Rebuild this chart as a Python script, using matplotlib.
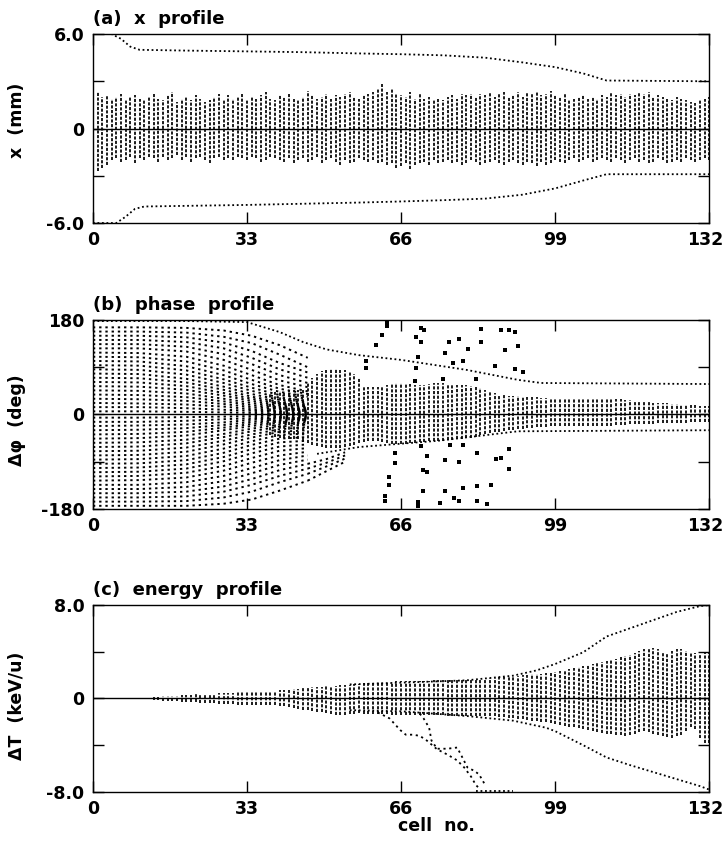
import numpy as np
import matplotlib
matplotlib.use("Agg")
import matplotlib.pyplot as plt
import matplotlib.transforms as mtransforms

plt.rcParams['font.family'] = ['DejaVu Sans']
plt.rcParams['font.weight'] = 'bold'

# ---------------- data ----------------
x_ticks = [0, 33, 66, 99, 132]
x_ticklabels = ['0', '33', '66', '99', '132']

# (a) x profile: extent of particle column at every cell (mm)
a_top = [2.5, 2.3, 2.0, 2.1, 1.9, 2.0, 2.2, 1.8, 2.0, 2.1,
         1.9, 1.8, 2.0, 2.2, 1.9, 1.8, 2.1, 2.3, 1.7, 1.9,
         2.0, 1.8, 2.1, 1.9, 1.7, 1.8, 2.0, 2.2, 1.8, 2.1,
         1.9, 2.0, 2.2, 1.8, 2.0, 1.9, 2.1, 2.3, 1.9, 1.8,
         2.1, 2.0, 2.2, 1.9, 1.8, 2.0, 2.4, 2.1, 1.9, 2.0,
         2.2, 1.9, 2.1, 2.0, 2.2, 2.3, 2.0, 1.9, 2.1, 2.2,
         2.3, 2.5, 2.8, 2.3, 2.6, 2.2, 2.1, 2.0, 2.3, 1.9,
         2.2, 1.9, 2.0, 1.8, 1.9, 1.8, 2.0, 2.1, 1.9, 2.2,
         2.1, 2.2, 2.0, 2.2, 2.1, 2.3, 2.0, 2.2, 2.3, 2.0,
         2.1, 2.3, 2.0, 2.3, 2.2, 2.4, 2.1, 2.2, 2.4, 2.1,
         2.0, 2.2, 1.8, 1.9, 2.0, 2.1, 1.9, 2.0, 1.9, 2.1,
         2.0, 2.3, 2.1, 2.2, 2.0, 2.2, 2.1, 2.3, 2.2, 2.3,
         2.0, 2.1, 2.0, 1.9, 1.8, 2.0, 1.9, 1.8, 1.7, 1.6,
         1.8, 1.9, 2.0]
a_bot = [-2.9, -2.7, -2.5, -2.3, -2.0, -1.9, -2.1, -2.0, -1.8, -2.2,
         -1.9, -2.0, -1.8, -1.9, -2.1, -1.8, -2.0, -1.9, -1.7, -2.0,
         -1.8, -2.1, -1.9, -1.8, -2.0, -2.2, -1.9, -1.8, -2.0, -1.9,
         -2.0, -1.8, -1.9, -2.0, -1.8, -1.9, -2.1, -2.0, -1.8, -1.9,
         -2.0, -2.1, -1.9, -2.2, -2.0, -1.9, -2.1, -2.0, -1.8, -2.2,
         -2.0, -1.9, -2.1, -2.3, -2.0, -2.2, -2.1, -1.9, -2.0, -2.1,
         -2.0, -2.2, -2.1, -2.3, -2.2, -2.5, -2.4, -2.2, -2.6, -2.3,
         -2.2, -2.1, -2.3, -2.0, -2.2, -2.1, -2.0, -2.2, -2.1, -2.3,
         -2.2, -2.0, -2.1, -2.3, -2.2, -2.1, -2.0, -2.2, -2.3, -2.1,
         -2.0, -2.2, -2.3, -2.1, -2.2, -2.4, -2.1, -2.3, -2.2, -2.0,
         -2.1, -2.2, -2.0, -1.9, -2.1, -2.0, -1.9, -2.1, -2.0, -1.9,
         -2.0, -2.1, -1.9, -2.0, -2.2, -2.0, -1.9, -2.1, -2.0, -2.2,
         -2.1, -1.9, -2.0, -2.2, -2.1, -2.0, -2.1, -1.9, -2.0, -2.1,
         -2.0, -1.9, -2.0]
a_env_up_cell = [0, 4, 6, 8, 10, 20, 33, 45, 57, 66, 75, 84, 92, 99, 105, 110, 132]
a_env_up_val = [6.0, 6.0, 5.7, 5.2, 5.0, 4.95, 4.9, 4.85, 4.77, 4.72, 4.65, 4.5, 4.2, 3.9, 3.5, 3.05, 3.0]
a_env_lo_cell = [0, 5, 7, 9, 11, 33, 57, 66, 75, 84, 92, 99, 105, 110, 132]
a_env_lo_val = [-6.0, -6.0, -5.6, -5.1, -4.95, -4.85, -4.7, -4.63, -4.55, -4.45, -4.2, -3.8, -3.3, -2.9, -2.9]

# (b) phase profile
b_core_cells = list(range(38, 133))
b_top = [40, 42, 44, 45, 46, 46, 47, 48,
         60, 70, 78, 83, 85, 86, 86, 85, 84, 82, 78, 70,
         55, 53, 52, 52, 53, 56, 58,
         60, 60, 59, 58, 57, 56, 56, 58,
         60, 60, 60, 59, 58, 57, 56, 56, 55, 53, 50, 47, 44, 40, 38,
         37, 36, 35, 35, 34, 34, 33, 33, 32, 32, 32, 32,
         32, 32, 32, 32, 32, 32, 32, 32, 32, 31, 31,
         30, 30, 29, 28, 27, 26, 25, 24, 23, 22, 21, 21, 21, 20, 20, 19, 19, 18, 18, 17, 17, 17]
b_bot = [-40, -42, -44, -45, -46, -46, -47, -48,
         -55, -58, -60, -62, -63, -63, -63, -63, -62, -60, -58, -55,
         -52, -51, -50, -51, -53, -55, -57,
         -57, -57, -56, -55, -54, -53, -52, -51,
         -51, -50, -50, -49, -48, -47, -46, -45, -44, -42, -40, -38, -36, -34, -33,
         -32, -30, -29, -28, -27, -26, -25, -24, -23, -23, -22, -22,
         -22, -22, -22, -22, -22, -22, -22, -22, -21, -21, -21,
         -21, -20, -20, -20, -19, -19, -19, -18, -18, -18, -17, -17, -17, -16, -16, -16, -16, -15, -15, -15, -15, -15]
# phase trajectories of the particle rows at the knot cells
b_knot_cells = [0, 10, 20, 28, 34, 40, 46]
b_rows = [
    [166, 166, 165, 160, 150, 132, 108],
    [158, 158, 156, 148, 136, 114, 90],
    [150, 150, 147, 137, 121, 98, 80],
    [142, 142, 138, 126, 108, 86, 70],
    [134, 134, 129, 115, 96, 75, 60],
    [126, 126, 120, 104, 85, 65, 52],
    [118, 117, 110, 93, 75, 56, 44],
    [110, 109, 101, 84, 66, 49, 39],
    [102, 101, 92, 75, 58, 43, 34],
    [94, 93, 84, 67, 51, 37, 30],
    [86, 85, 76, 60, 45, 32, 26],
    [78, 77, 68, 53, 39, 28, 23],
    [70, 69, 61, 47, 34, 24, 20],
    [62, 61, 54, 41, 30, 21, 17],
    [54, 53, 47, 36, 26, 18, 14],
    [46, 45, 40, 30, 22, 15, 12],
    [38, 37, 33, 25, 18, 12, 10],
    [30, 29, 26, 20, 14, 10, 8],
    [22, 21, 19, 15, 10, 7, 6],
    [14, 14, 12, 9, 7, 5, 4],
    [6, 6, 5, 4, 3, 2, 2],
    [-6, -6, -5, -4, -3, -2, -2],
    [-14, -14, -12, -9, -7, -5, -4],
    [-22, -21, -19, -15, -10, -7, -6],
    [-30, -29, -26, -20, -14, -10, -8],
    [-38, -37, -33, -25, -18, -12, -10],
    [-46, -45, -40, -30, -22, -15, -12],
    [-54, -53, -48, -37, -27, -19, -15],
    [-62, -61, -55, -43, -32, -23, -19],
    [-70, -69, -63, -50, -38, -28, -24],
    [-78, -77, -71, -57, -44, -33, -30],
    [-86, -85, -79, -65, -51, -39, -36],
    [-94, -93, -87, -73, -58, -46, -43],
    [-102, -101, -95, -81, -66, -53, -50],
    [-110, -109, -103, -89, -74, -61, -57],
    [-118, -117, -111, -98, -83, -69, -64],
    [-126, -125, -120, -107, -92, -78, -71],
    [-134, -134, -129, -117, -102, -87, -78],
    [-142, -142, -138, -127, -112, -96, -86],
    [-150, -150, -147, -137, -123, -106, -94],
    [-158, -158, -156, -147, -134, -117, -103],
    [-166, -166, -165, -158, -147, -129, -113],
    [-174, -174, -174, -170, -162, -145, -126],
]
# outer lower rows keep going until they join the core
b_late_cell = [46, 50, 54]
b_late_rows = [
    [-94, -85, -72],
    [-103, -92, -78],
    [-113, -99, -84],
    [-126, -108, -90],
]
b_env_up_cell = [0, 20, 33, 40, 45, 50, 57, 66, 80, 91, 96, 132]
b_env_up_val = [178, 178, 176, 157, 138, 124, 113, 104, 85, 66, 60, 58]
b_env_lo_cell = [48, 57, 74, 91, 132]
b_env_lo_val = [-75, -62, -50, -32, -30]
b_out_cell = [62.9, 62.9, 61.8, 60.7, 70.2, 70.9, 69.1, 70.2, 76.3, 78.3, 80.3, 75.3,
              77.2, 79.2, 83.1, 83.1, 87.3, 89.2, 90.3, 91.1, 88.3, 90.3, 92.2, 86.2,
              75.0, 69.1, 68.9, 82.1, 58.5, 58.5, 69.7,
              64.6, 64.6, 63.5, 63.5, 62.6, 62.6, 69.6, 69.6, 70.6, 71.5, 71.5, 70.6,
              74.4, 75.4, 77.4, 78.3, 75.4, 76.5, 78.3, 79.3, 79.3, 82.3, 82.3, 82.3,
              84.3, 85.2, 86.4, 87.3, 89.2, 89.2, 70.3]
b_out_val = [174, 168, 152, 133, 165, 161, 148, 139, 139, 143, 124, 118,
             98, 102, 162, 139, 161, 161, 158, 131, 122, 87, 80, 93,
             68, 88, 63, 68, 101, 88, 110,
             -73, -92, -120, -135, -156, -164, -167, -174, -106, -109, -80, -146,
             -169, -146, -159, -164, -87, -59, -90, -59, -140, -73, -137, -164,
             -171, -135, -85, -83, -65, -103, -60]

# (c) energy profile (keV/u)
c_top = [0.05] * 13 + [
    0.10, 0.15, 0.18, 0.20, 0.22, 0.25, 0.28, 0.30,
    0.32, 0.34, 0.36, 0.38, 0.40, 0.42, 0.44, 0.46, 0.48, 0.50, 0.52, 0.54,
    0.55, 0.57, 0.59, 0.61, 0.63, 0.66, 0.68, 0.70, 0.73, 0.76, 0.80, 0.84, 0.88,
    0.92, 0.95, 0.98, 1.01, 1.04, 1.07, 1.10, 1.13, 1.16, 1.19, 1.22, 1.25, 1.28, 1.32, 1.36,
    1.40, 1.42, 1.44, 1.45, 1.46, 1.47, 1.48, 1.49, 1.50, 1.51, 1.52, 1.53, 1.54,
    1.55, 1.56, 1.57, 1.58, 1.59, 1.60, 1.62, 1.64, 1.66, 1.68, 1.70, 1.72, 1.75,
    1.80, 1.84, 1.88, 1.92, 1.96, 2.00, 2.03, 2.06, 2.08, 2.10, 2.15, 2.20, 2.28, 2.35,
    2.40, 2.50, 2.60, 2.65, 2.75, 2.85, 2.95, 3.05, 3.10, 3.20, 3.30, 3.40, 3.55, 3.65,
    3.75, 3.90, 4.05, 4.20, 4.30, 4.35, 4.20, 3.90, 3.80, 4.10, 4.20, 4.25, 4.10, 4.00,
    3.90, 3.80, 3.85, 3.90]
c_bot = [-0.05] * 13 + [
    -0.10, -0.15, -0.18, -0.20, -0.22, -0.25, -0.28, -0.30,
    -0.32, -0.34, -0.36, -0.38, -0.40, -0.42, -0.44, -0.46, -0.48, -0.50, -0.52, -0.53,
    -0.54, -0.55, -0.56, -0.57, -0.58, -0.59, -0.60, -0.62, -0.66, -0.72, -0.80, -0.88, -0.95,
    -1.02, -1.08, -1.14, -1.20, -1.26, -1.32, -1.38, -1.42, -1.40, -1.36, -1.30, -1.28, -1.30, -1.32, -1.34,
    -1.35, -1.36, -1.37, -1.38, -1.38, -1.39, -1.40, -1.40, -1.41, -1.42, -1.42, -1.43, -1.44,
    -1.44, -1.45, -1.46, -1.46, -1.47, -1.48, -1.48, -1.49, -1.50, -1.50, -1.51, -1.52, -1.53,
    -1.55, -1.60, -1.65, -1.70, -1.75, -1.80, -1.85, -1.90, -1.95, -2.00, -2.05, -2.10, -2.18, -2.25,
    -2.32, -2.40, -2.48, -2.55, -2.62, -2.70, -2.80, -2.90, -2.95, -3.00, -3.05, -3.10, -3.15, -3.20,
    -3.15, -3.00, -2.85, -2.80, -2.90, -3.00, -3.10, -3.20, -3.30, -3.35, -3.25, -3.10, -2.80, -2.40,
    -2.60, -3.40, -3.80, -3.80]
c_env_up_cell = [55, 66, 80, 90, 95, 99, 105, 110, 115, 120, 125, 130, 132]
c_env_up_val = [1.2, 1.35, 1.55, 1.95, 2.4, 2.95, 3.95, 5.3, 6.0, 6.7, 7.4, 7.9, 8.0]
c_env_lo_cell = [55, 66, 80, 90, 97, 99, 105, 110, 115, 120, 125, 130, 132]
c_env_lo_val = [-1.0, -1.1, -1.5, -1.9, -2.5, -2.8, -4.0, -5.05, -5.7, -6.3, -6.9, -7.5, -7.8]
c_trail1_cell = [61, 63.5, 65.8, 67, 68.5, 70, 71.5, 73.7, 75.9, 78, 79.5, 81, 82, 83]
c_trail1_val = [-1.2, -1.7, -2.7, -3.1, -3.1, -3.2, -3.6, -4.35, -4.8, -5.3, -5.9, -6.7, -7.4, -7.8]
c_trail2_cell = [70, 70.8, 72, 72.5, 73.7, 75.9, 78, 78.8, 80.2, 81.7, 82.7, 84]
c_trail2_val = [-1.3, -1.7, -2.5, -3.6, -4.3, -4.3, -4.2, -4.8, -5.9, -6.2, -6.5, -7.4]
c_floor_cell = [82, 90]
c_floor_val = [-7.9, -7.9]

cells = np.arange(133)

# ---------------- drawing ----------------
FS = 12.5
col_style = (0, (1.8, 0.9))
env_style = (0, (1.0, 1.5))
row_style = (0, (1.2, 2.0))


def setup(ax, ylim, yticks, ylabels, title):
    ax.set_xlim(0, 132)
    ax.set_ylim(*ylim)
    ax.axhline(0, color='k', lw=1.0)
    ax.set_xticks(x_ticks)
    ax.set_xticklabels(x_ticklabels, fontsize=FS, fontweight='bold')
    ax.set_yticks(yticks)
    ax.set_yticklabels(ylabels, fontsize=FS, fontweight='bold')
    ax.tick_params(direction='in', top=True, right=True, length=8, width=1, pad=6)
    # nudge the last x label inward so it stays on the page
    lab = ax.get_xticklabels()[-1]
    lab.set_transform(lab.get_transform() +
                      mtransforms.ScaledTranslation(-4 / 100, 0, fig.dpi_scale_trans))
    for s in ax.spines.values():
        s.set_linewidth(1.0)
    ax.text(0.0, 1.03, title, transform=ax.transAxes, ha='left', va='bottom',
            fontsize=13, fontweight='bold')


fig = plt.figure(figsize=(7.26, 8.41), dpi=100)

# (a)
ax = fig.add_axes([0.128, 0.7348, 0.849, 0.2247])
ax.vlines(cells, a_bot, a_top, colors='k', linewidth=1.25, linestyles=[col_style])
ax.plot(a_env_up_cell, a_env_up_val, color='k', lw=1.3, linestyle=env_style)
ax.plot(a_env_lo_cell, a_env_lo_val, color='k', lw=1.3, linestyle=env_style)
setup(ax, (-6, 6), [-6, -3, 0, 3, 6], ['-6.0', '', '0', '', '6.0'], '(a)  x  profile')
fig.text(0.024, 1 - 120 / 841, 'x  (mm)', rotation=90, ha='center', va='center',
         fontsize=FS, fontweight='bold')

# (b)
ax = fig.add_axes([0.128, 0.3948, 0.849, 0.2247])
for row in b_rows:
    ax.plot(b_knot_cells, row, color='k', lw=1.4, linestyle=row_style)
for row in b_late_rows:
    ax.plot(b_late_cell, row, color='k', lw=1.4, linestyle=row_style)
ax.vlines(b_core_cells, b_bot, b_top, colors='k', linewidth=1.25, linestyles=[col_style])
ax.plot(b_env_up_cell, b_env_up_val, color='k', lw=1.3, linestyle=env_style)
ax.plot(b_env_lo_cell, b_env_lo_val, color='k', lw=1.3, linestyle=env_style)
ax.scatter(b_out_cell, b_out_val, s=5, marker='s', color='k', linewidths=0)
setup(ax, (-180, 180), [-180, -90, 0, 90, 180], ['-180', '', '0', '', '180'], '(b)  phase  profile')
fig.text(0.024, 1 - 420 / 841, 'Δφ  (deg)', rotation=90, ha='center', va='center',
         fontsize=FS, fontweight='bold')

# (c)
ax = fig.add_axes([0.128, 0.0583, 0.849, 0.2224])
ax.vlines(cells, c_bot, c_top, colors='k', linewidth=1.25, linestyles=[col_style])
ax.plot(c_env_up_cell, c_env_up_val, color='k', lw=1.3, linestyle=env_style)
ax.plot(c_env_lo_cell, c_env_lo_val, color='k', lw=1.3, linestyle=env_style)
ax.plot(c_trail1_cell, c_trail1_val, color='k', lw=1.3, linestyle=row_style)
ax.plot(c_trail2_cell, c_trail2_val, color='k', lw=1.3, linestyle=row_style)
ax.plot(c_floor_cell, c_floor_val, color='k', lw=1.3, linestyle=env_style)
setup(ax, (-8, 8), [-8, -4, 0, 4, 8], ['-8.0', '', '0', '', '8.0'], '(c)  energy  profile')
fig.text(0.024, 1 - 706 / 841, 'ΔT  (keV/u)', rotation=90, ha='center', va='center',
         fontsize=FS, fontweight='bold')
fig.text(436 / 726, 1 - 826 / 841, 'cell  no.', ha='center', va='center',
         fontsize=FS, fontweight='bold')

fig.savefig('out.png', dpi=100)
